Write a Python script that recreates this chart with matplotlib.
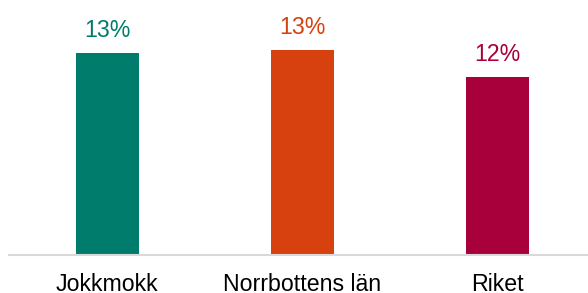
import matplotlib
matplotlib.use("Agg")
import matplotlib.pyplot as plt

categories = ["Jokkmokk", "Norrbottens län", "Riket"]
values = [13.22, 13.4, 11.65]
labels = ["13%", "13%", "12%"]
colors = ["#007C6D", "#D6410F", "#A8003B"]

plt.rcParams['font.family'] = ['Liberation Sans', 'DejaVu Sans']

fig = plt.figure(figsize=(5.88, 2.93), dpi=100)
ax = fig.add_axes([9.3/588, 38/293, 578.7/588, 255/293])
x = list(range(len(categories)))
bars = ax.bar(x, values, width=0.323, color=colors, zorder=1)
for xi, v, lab, c in zip(x, values, labels, colors):
    ax.annotate(lab, (xi, v), xytext=(0, 7.8), textcoords="offset points",
                ha="center", va="bottom", fontsize=16.7, color=c)
ax.set_xlim(-0.502, 2.466)
ax.set_ylim(0, 16.67)
ax.set_xticks(x)
ax.set_xticklabels(categories, fontsize=16.7)
ax.tick_params(axis='x', length=0, pad=13, colors="#000000")
ax.set_yticks([])
for s in ["top", "right", "left"]:
    ax.spines[s].set_visible(False)
ax.spines["bottom"].set_color("#D9D9D9")
ax.spines["bottom"].set_linewidth(1.5)
ax.spines["bottom"].set_zorder(2)
fig.savefig("out.png", dpi=100)
